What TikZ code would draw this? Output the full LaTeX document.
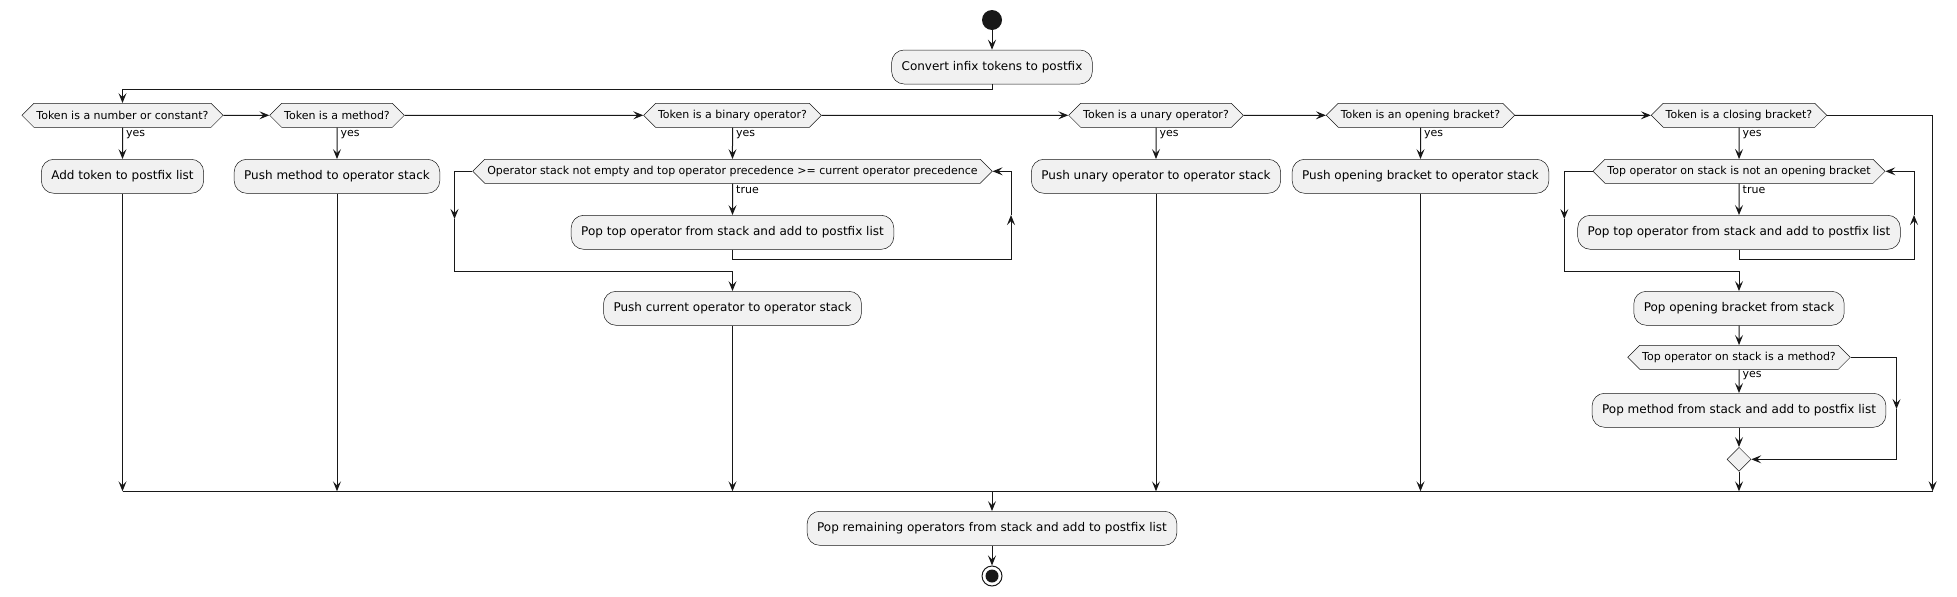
\documentclass[tikz,border=0pt]{standalone}
\usepackage{fontspec}
\setmainfont{DejaVu Sans}
\usetikzlibrary{arrows.meta,shapes.symbols,shapes.geometric}
\definecolor{boxfill}{HTML}{F1F1F1}
\definecolor{ink}{HTML}{181818}
\tikzset{
  act/.style={draw=ink, line width=.5pt, fill=boxfill, rounded corners=12.5pt,
    minimum height=34pt, inner xsep=10pt, inner ysep=0pt, font=\fontsize{12}{14}\selectfont},
  dec/.style={signal, signal to=east and west, signal pointer angle=90,
    draw=ink, line width=.5pt, fill=boxfill, minimum height=24pt,
    inner xsep=2.5pt, inner ysep=0pt, font=\fontsize{11}{13}\selectfont},
  flow/.style={draw=ink, line width=1pt, -{Stealth[length=10pt,width=8pt,inset=4pt]}},
  wire/.style={draw=ink, line width=1pt},
  lbl/.style={anchor=west, inner sep=0pt, font=\fontsize{11}{13}\selectfont},
}
\begin{document}
\begin{tikzpicture}[x=1pt,y=-1pt]
\useasboundingbox (0,0) rectangle (1957,597);

% start
\node[circle, fill=ink, minimum size=20pt, inner sep=0pt] (start) at (992,20) {};
\node[act] (conv) at (992,67) {Convert infix tokens to postfix};
\draw[flow] (start) -- (conv);

% the six token tests
\foreach \n/\x/\txt in {d1/122.5/{Token is a number or constant?},
                        d2/337/{Token is a method?},
                        d3/732.5/{Token is a binary operator?},
                        d4/1156/{Token is a unary operator?},
                        d5/1420.5/{Token is an opening bracket?},
                        d6/1739/{Token is a closing bracket?}}
{
	\node[dec] (\n) at (\x,115.3) {\txt};
	\node[lbl] (y\n) at (\x+3.5,134.3) {yes};
}
\draw[flow] (conv.south) -- ++(0,5) -| (d1);
\foreach \a/\b in {d1/d2,d2/d3,d3/d4,d4/d5,d5/d6}
	\draw[flow] (\a) -- (\b);

\node[act] (a1) at (122.5,176.3) {Add token to postfix list};
\node[act] (a2) at (337,176.3) {Push method to operator stack};
\node[act] (a4) at (1156,176.3) {Push unary operator to operator stack};
\node[act] (a5) at (1420.5,176.3) {Push opening bracket to operator stack};
\foreach \n in {1,2,4,5}
	\draw[flow] (d\n) -- (a\n);

% binary operator loop
\node[dec] (w1) at (732.5,171.3) {Operator stack not empty and top operator precedence >= current operator precedence};
\node[lbl] (t1) at (736,190) {true};
\node[act] (p1) at (732.5,232.3) {Pop top operator from stack and add to postfix list};
\node[act] (b3) at (732.5,308.3) {Push current operator to operator stack};
\coordinate (w1r) at (1011,215);
\coordinate (w1l) at (454.5,219);
\coordinate (w1b) at (454.5,271);
\draw[flow] (d3) -- (w1);
\draw[flow] (w1) -- (p1);
\draw[flow] (p1.south) -- ++(0,9.7) -| (w1r);
\draw[flow] (w1r) |- (w1.east);
\draw[flow] (w1.west) -| (w1l);
\draw[flow] (w1l) -- (w1b) -| (b3);

% closing bracket loop
\node[dec] (w2) at (1739,171.3) {Top operator on stack is not an opening bracket};
\node[lbl] (t2) at (1742.5,190) {true};
\node[act] (p2) at (1739,232.3) {Pop top operator from stack and add to postfix list};
\node[act] (c1) at (1739,308.3) {Pop opening bracket from stack};
\coordinate (w2r) at (1914,215);
\coordinate (w2l) at (1564.3,219);
\coordinate (w2b) at (1564.3,271);
\draw[flow] (d6) -- (w2);
\draw[flow] (w2) -- (p2);
\draw[flow] (p2.south) -- ++(0,9.7) -| (w2r);
\draw[flow] (w2r) |- (w2.east);
\draw[flow] (w2.west) -| (w2l);
\draw[flow] (w2l) -- (w2b) -| (c1);

\node[dec] (c2) at (1739,357.3) {Top operator on stack is a method?};
\node[lbl] (yc2) at (1742.5,376) {yes};
\node[act] (c3) at (1739,410.3) {Pop method from stack and add to postfix list};
\node[diamond, draw=ink, line width=.5pt, fill=boxfill, minimum size=24pt, inner sep=0pt] (c4) at (1739,459.3) {};
\coordinate (c2r) at (1896.5,409);
\draw[flow] (c1) -- (c2);
\draw[flow] (c2) -- (c3);
\draw[flow] (c3) -- (c4);
\draw[flow] (c2.east) -| (c2r);
\draw[flow] (c2r) |- (c4.east);

% merge
\coordinate (mL) at (122.5,491.3);
\coordinate (mR) at (1932.6,491.3);
\draw[wire] (mL) -- (mR);
\foreach \n in {a1,a2,b3,a4,a5,c4}
	\draw[flow] (\n) -- (\n |- mL);
\draw[flow] (d6) -| (mR);

\node[act] (fin) at (992,528.3) {Pop remaining operators from stack and add to postfix list};
\node[circle, draw=ink, line width=1pt, fill=white, minimum size=20pt, inner sep=0pt] (stop) at (992,576) {};
\fill[ink] (stop.center) circle (6.5pt);
\draw[flow] (fin |- mL) -- (fin);
\draw[flow] (fin) -- (stop);

\end{tikzpicture}
\end{document}
